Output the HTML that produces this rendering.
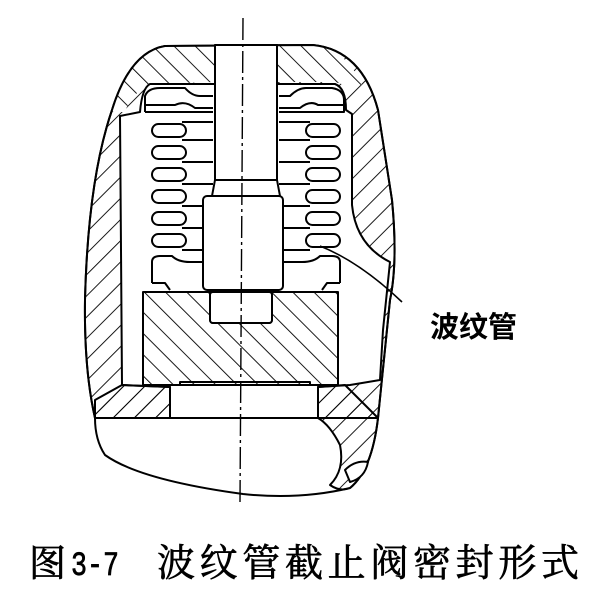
<!DOCTYPE html>
<html><head><meta charset="utf-8"><style>
html,body{margin:0;padding:0;background:#fff;}
svg{display:block;}
</style></head><body>
<svg width="600" height="596" viewBox="0 0 600 596" xmlns="http://www.w3.org/2000/svg">
<defs>
<pattern id="h1" patternUnits="userSpaceOnUse" width="15" height="15" patternTransform="rotate(45)">
<line x1="0" y1="0" x2="0" y2="15" stroke="#000" stroke-width="1.8"/></pattern>
<pattern id="h2" patternUnits="userSpaceOnUse" width="15" height="15" patternTransform="rotate(-45)">
<line x1="0" y1="0" x2="0" y2="15" stroke="#000" stroke-width="1.8"/></pattern>
</defs>
<g stroke="#000" stroke-width="2" fill="none" stroke-linejoin="round">
<path d="M165,46 L313,45 Q362,50 378,110 L392,200 Q398,262 390,300 L378,418 L95,418 Q84,370 85,300 Q88,180 112,110 Q130,52 165,46 Z" fill="url(#h1)"/>
<path d="M165,46 L215,46 L215,82 L150,84 Q130,95 125,112 L112,112 Q130,52 165,46 Z" fill="#fff" stroke="none"/>
<path d="M165,46 L215,46 L215,82 L150,84 Q130,95 125,112 L112,112 Q130,52 165,46 Z" fill="url(#h2)" stroke="none"/>
<path d="M277,45 L313,45 Q345,48 362,85 L345,86 Q340,82 330,82 L277,82 Z" fill="#fff" stroke="none"/>
<path d="M277,45 L313,45 Q345,48 362,85 L345,86 Q340,82 330,82 L277,82 Z" fill="url(#h2)" stroke="none"/>
<path d="M165,46 L313,45 Q362,50 378,110 L392,200 Q398,262 390,300 L378,418 L95,418 Q84,370 85,300 Q88,180 112,110 Q130,52 165,46 Z"/>
<path d="M150,84 L215,84 L215,45 L277,45 L277,84 L335,84 Q346,88 346,110 L352,114 L352,205 Q356,245 390,262 L383,330 L380,380 L350,385 L318,387 L318,418 L170,418 L170,387 L122,385 L120,116 L140,112 Q142,88 150,84 Z" fill="#fff"/>
<path d="M95,418 L378,418 Q372,470 350,488 Q300,500 243,494 Q140,480 105,455 Q95,440 95,418 Z" fill="#fff"/>
<path d="M318,387 L345,385 L378,418 Q372,470 350,488 Q340,492 330,485 Q345,470 340,445 Q330,425 318,418 Z" fill="url(#h1)"/>
<path d="M345,470 Q355,460 368,462 Q365,478 350,482 Z" fill="#fff"/>
<path d="M95,418 L95,400 L122,385 L170,387 L170,418 Z" fill="url(#h1)"/>
<rect x="215" y="45" width="62" height="135" fill="#fff"/>
<path d="M215,180 L212,196 M277,180 L280,196 M217,180 L275,180" />
<rect x="203" y="196" width="80" height="94" rx="4" fill="#fff"/>
<rect x="210" y="290" width="62" height="33" rx="3" fill="#fff"/>
<path d="M145,112 L145,96 Q148,88 160,88 L185,88 Q192,96 200,96 L213,96 M145,112 L213,112 M145,105 L175,105 Q185,100 195,108 L213,108"/>
<path d="M279,96 L290,96 Q298,88 306,88 L332,88 Q344,90 344,100 L344,112 L279,112 M279,108 L300,108 Q310,100 318,105 L344,105"/>
<g id="bl">
<rect x="152" y="124" width="34" height="13" rx="6.5" fill="#fff"/>
<rect x="152" y="146" width="34" height="13" rx="6.5" fill="#fff"/>
<rect x="152" y="168" width="34" height="13" rx="6.5" fill="#fff"/>
<rect x="152" y="190" width="34" height="13" rx="6.5" fill="#fff"/>
<rect x="152" y="212" width="34" height="13" rx="6.5" fill="#fff"/>
<rect x="152" y="234" width="34" height="13" rx="6.5" fill="#fff"/>
</g>
<use href="#bl" transform="translate(492,0) scale(-1,1)"/>
<path d="M182,122 L213,122 M182,140 L213,140 M182,162 L213,162 M182,184 L213,184 M182,206 L203,206 M182,228 L203,228 M182,250 L203,250"/>
<path d="M279,122 L310,122 M279,140 L310,140 M279,162 L310,162 M279,184 L310,184 M283,206 L310,206 M283,228 L310,228 M283,250 L310,250"/>
<path d="M152,283 L152,262 Q152,256 160,256 L172,256 Q178,262 190,262 L203,262 M152,283 L165,283 L170,290"/>
<path d="M340,283 L340,262 Q340,256 332,256 L320,256 Q314,262 302,262 L283,262 M340,283 L327,283 L322,290"/>
<path d="M143,292 L338,292 L338,385 L143,385 Z" fill="url(#h2)"/>
<rect x="210" y="292" width="62" height="31" rx="3" fill="#fff"/>
<path d="M180,385 L180,382 L310,382 L310,385"/>
<path d="M320,246 Q360,262 402,302" stroke-width="1.6"/>
<path d="M243,18 L240,502" stroke-width="1.4" stroke-dasharray="22,4,3,4"/>
</g>
<text x="430" y="337" font-family="'Liberation Sans','Noto Sans CJK SC',sans-serif" font-size="29" font-weight="bold">波纹管</text>
<g stroke="#000" stroke-width="0.7">
<text x="29" y="576" font-family="'Liberation Serif','Noto Serif CJK SC',serif" font-size="37">图</text>
<text x="71" y="575" font-family="'Liberation Mono',monospace" font-size="34" textLength="48" lengthAdjust="spacingAndGlyphs">3-7</text>
<text x="157" y="576" font-family="'Liberation Serif','Noto Serif CJK SC',serif" font-size="38" textLength="422" lengthAdjust="spacing">波纹管截止阀密封形式</text>
</g>
</svg>
</body></html>
